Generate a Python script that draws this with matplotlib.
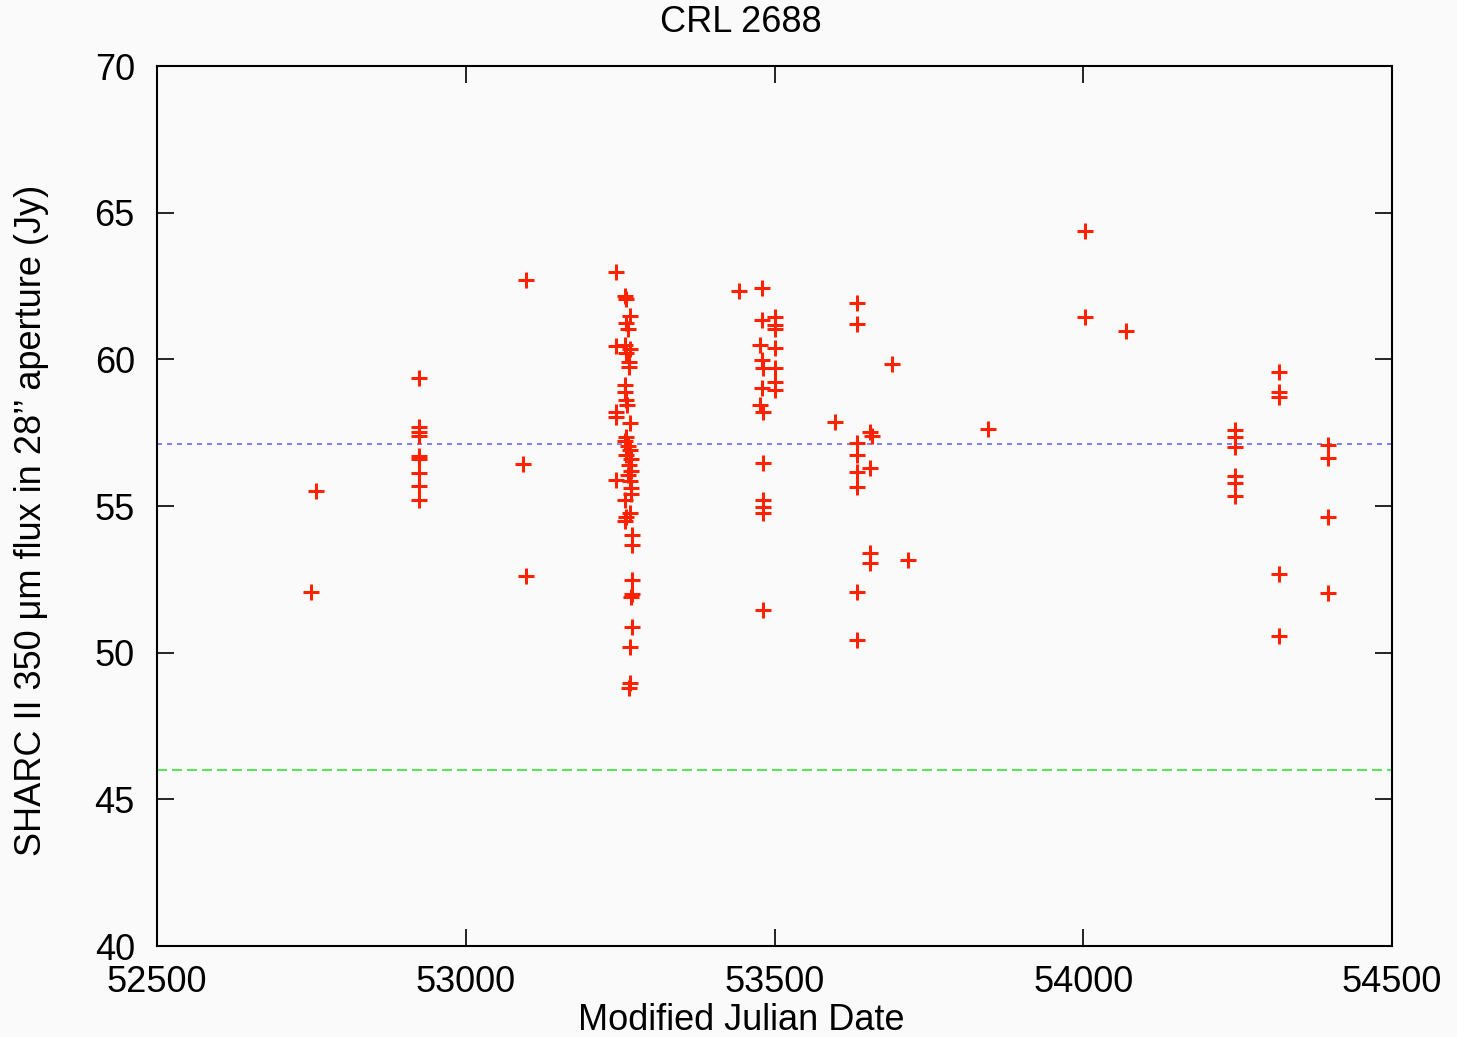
import matplotlib
matplotlib.use("Agg")
import matplotlib.pyplot as plt

plt.rcParams['font.family'] = ['Liberation Sans', 'DejaVu Sans']

mjd = [
    52757, 52749,
    52925, 52925, 52925, 52925, 52925, 52925, 52925, 52925, 52925,
    53098, 53093, 53098,
    53244, 53258, 53260, 53266, 53260, 53262, 53244, 53258, 53266, 53260,
    53264, 53265, 53258, 53258, 53259, 53261, 53244, 53244, 53266, 53260,
    53258, 53262, 53266, 53260, 53268, 53264, 53268, 53262, 53244, 53266,
    53268, 53268, 53258, 53266, 53260, 53258, 53269, 53269, 53269, 53269,
    53268, 53269, 53266, 53266, 53264,
    53443, 53479, 53479, 53501, 53501, 53501, 53477, 53501, 53479, 53481,
    53501, 53501, 53501, 53479, 53477, 53481, 53481, 53481, 53481, 53481,
    53481,
    53633, 53633, 53690, 53598, 53655, 53658, 53633, 53633, 53633, 53655,
    53633, 53655, 53655, 53717, 53633, 53633,
    53846,
    54003, 54003, 54069,
    54246, 54246, 54246, 54246, 54246, 54246,
    54317, 54317, 54317, 54317, 54317,
    54396, 54396, 54396, 54396,
]
flux = [
    55.51, 52.08,
    59.35, 57.70, 57.53, 57.38, 56.70, 56.60, 56.13, 55.68, 55.20,
    62.70, 56.43, 52.62,
    62.97, 62.15, 62.05, 61.48, 61.23, 61.02, 60.45, 60.49, 60.34, 60.20,
    59.92, 59.75, 59.12, 58.90, 58.60, 58.44, 58.21, 58.04, 57.82, 57.36,
    57.20, 57.05, 56.90, 56.75, 56.60, 56.40, 56.20, 56.05, 55.89, 55.85,
    55.60, 55.40, 55.20, 54.75, 54.64, 54.50, 54.00, 53.67, 52.48, 52.00,
    51.90, 50.89, 50.20, 48.96, 48.80,
    62.34, 62.42, 61.34, 61.45, 61.17, 61.03, 60.49, 60.38, 59.98, 59.69,
    59.69, 59.24, 58.95, 59.01, 58.44, 58.21, 56.48, 55.20, 54.98, 54.75,
    51.45,
    61.93, 61.20, 59.84, 57.87, 57.53, 57.40, 57.14, 56.74, 56.17, 56.28,
    55.66, 53.39, 53.05, 53.16, 52.08, 50.43,
    57.62,
    64.37, 61.44, 60.97,
    57.59, 57.34, 57.02, 56.02, 55.77, 55.35,
    59.57, 58.90, 58.73, 52.68, 50.57,
    57.08, 56.65, 54.61, 52.04,
]
mean_flux = 57.11
ref_flux = 46.0

W, H = 1457, 1037
fig = plt.figure(figsize=(W / 100, H / 100), dpi=100, facecolor='#fafafa')
ax = fig.add_axes([157 / W, 1 - 946 / H, (1392 - 157) / W, (946 - 66) / H])
ax.set_facecolor('#fafafa')

ax.axhline(mean_flux, color='#6b6bff', lw=1.2, ls=(0, (3, 3)))
ax.axhline(ref_flux, color='#33e633', lw=1.2, ls=(0, (6, 3)))
ax.plot(mjd, flux, ls='none', marker='+', color='#ff2200', ms=11, mew=2.2)

ax.set_xlim(52500, 54500)
ax.set_ylim(40, 70)
ax.set_xticks([52500, 53000, 53500, 54000, 54500])
ax.set_yticks([40, 45, 50, 55, 60, 65, 70])
ax.tick_params(direction='in', length=12, width=1.2, labelsize=26,
               top=True, right=True, colors='black')
ax.tick_params(axis='y', pad=16)
ax.tick_params(axis='x', pad=14)
for s in ax.spines.values():
    s.set_linewidth(1.5)

fig.text(741 / W, 1 - 22 / H, 'CRL 2688', fontsize=26, ha='center', va='center')
fig.text(741 / W, 1 - 1021 / H, 'Modified Julian Date', fontsize=26, ha='center', va='center')
fig.text(32 / W, 1 - 520 / H, 'SHARC II 350 \u03bcm flux in 28\u2019\u2019 aperture (Jy)',
         fontsize=26, ha='center', va='center', rotation=90)

fig.savefig('out.png', dpi=100, facecolor='#fafafa')
